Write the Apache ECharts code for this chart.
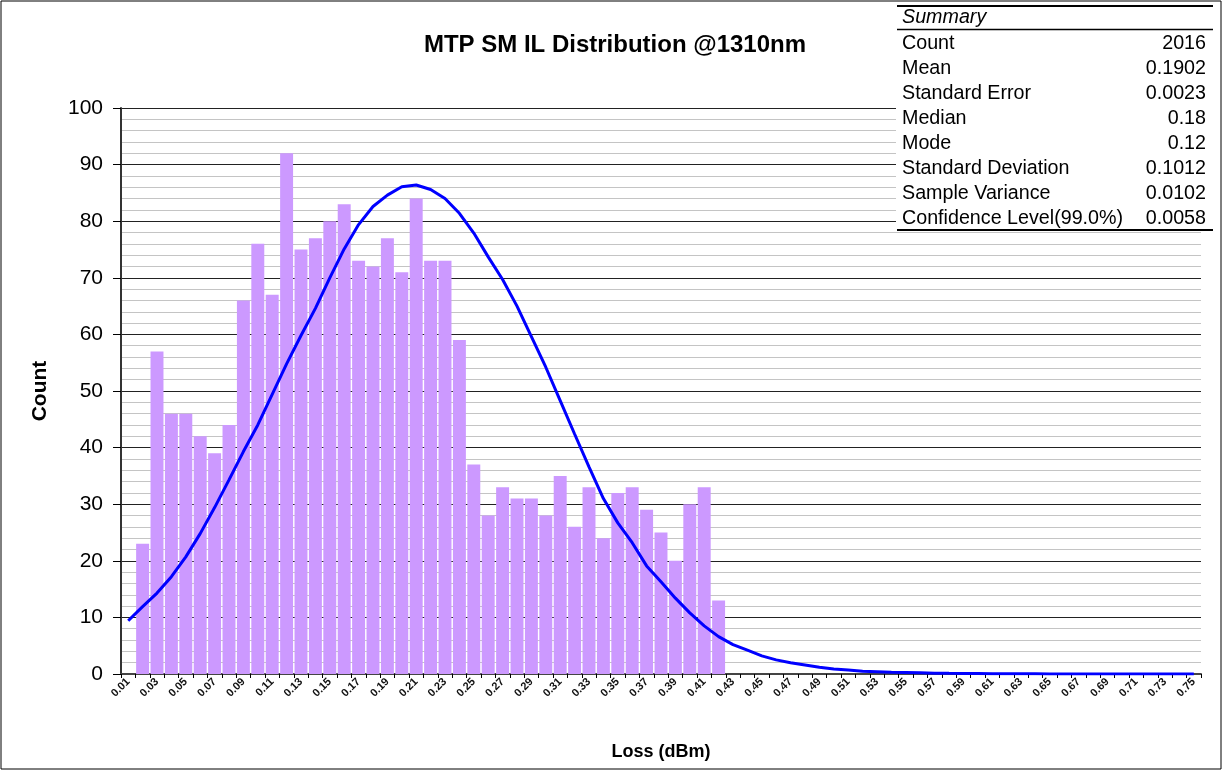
<!DOCTYPE html>
<html>
<head>
<meta charset="utf-8">
<script src="https://cdn.jsdelivr.net/npm/echarts@6/dist/echarts.min.js"></script>
<style>
html,body{margin:0;padding:0;background:#fff;}
#chart{width:1223px;height:771px;}
</style>
</head>
<body>
<div id="chart"></div>
<script>
// ---- data ----
const titleText = 'MTP SM IL Distribution @1310nm';
const xAxisName = 'Loss (dBm)';
const yAxisName = 'Count';

const categories = ['0.01','0.02','0.03','0.04','0.05','0.06','0.07','0.08','0.09','0.10',
  '0.11','0.12','0.13','0.14','0.15','0.16','0.17','0.18','0.19','0.20',
  '0.21','0.22','0.23','0.24','0.25','0.26','0.27','0.28','0.29','0.30',
  '0.31','0.32','0.33','0.34','0.35','0.36','0.37','0.38','0.39','0.40',
  '0.41','0.42','0.43','0.44','0.45','0.46','0.47','0.48','0.49','0.50',
  '0.51','0.52','0.53','0.54','0.55','0.56','0.57','0.58','0.59','0.60',
  '0.61','0.62','0.63','0.64','0.65','0.66','0.67','0.68','0.69','0.70',
  '0.71','0.72','0.73','0.74','0.75'];

const counts = [0,23,57,46,46,42,39,44,66,76,
  67,92,75,77,80,83,73,72,77,71,
  84,73,73,59,37,28,33,31,31,28,
  35,26,33,24,32,33,29,25,20,30,
  33,13,0,0,0,0,0,0,0,0,
  0,0,0,0,0,0,0,0,0,0,
  0,0,0,0,0,0,0,0,0,0,
  0,0,0,0,0];

const normalCurve = [9.4,11.9,14.3,17.2,20.7,24.8,29.4,34.3,39.3,44.0,
  49.4,54.8,59.8,64.6,70.0,75.1,79.4,82.6,84.6,86.1,
  86.4,85.6,84.0,81.4,77.9,73.7,69.7,65.0,59.6,54.2,
  48.3,42.4,36.6,31.0,26.7,23.2,19.1,16.3,13.4,10.8,
  8.5,6.6,5.2,4.2,3.2,2.5,2.0,1.6,1.2,0.9,
  0.7,0.5,0.4,0.3,0.25,0.2,0.15,0.12,0.1,0.08,
  0.06,0.05,0.04,0.03,0.02,0.02,0.01,0.01,0.01,0,
  0,0,0,0,0];

const summaryHeader = 'Summary';
const summaryLabels = ['Count','Mean','Standard Error','Median','Mode','Standard Deviation','Sample Variance','Confidence Level(99.0%)'];
const summaryValues = ['2016','0.1902','0.0023','0.18','0.12','0.1012','0.0102','0.0058'];

// ---- chart ----
const FONT = 'Arial, "Liberation Sans", sans-serif';
const chart = echarts.init(document.getElementById('chart'), null, {renderer:'canvas'});

const tableX0 = 896, tableX1 = 1214, rowH = 25, firstRowY = 18;
const tableEls = [
  {type:'rect', shape:{x:tableX0, y:4, width:tableX1-tableX0, height:228}, style:{fill:'#ffffff'}, z:100},
  {type:'line', shape:{x1:tableX0+1, y1:6, x2:tableX1-1, y2:6}, style:{stroke:'#000', lineWidth:2}, z:101},
  {type:'line', shape:{x1:tableX0+1, y1:29.5, x2:tableX1-1, y2:29.5}, style:{stroke:'#000', lineWidth:1.5}, z:101},
  {type:'line', shape:{x1:tableX0+1, y1:230, x2:tableX1-1, y2:230}, style:{stroke:'#000', lineWidth:2}, z:101},
  {type:'text', z:101, style:{text:summaryHeader, x:902, y:firstRowY, font:'italic 19.7px ' + FONT, fill:'#000', align:'left', verticalAlign:'middle'}}
];
summaryLabels.forEach((lab, i) => {
  const y = firstRowY + 0.5 + rowH * (i + 1);
  tableEls.push({type:'text', z:101, style:{text:lab, x:902, y:y, font:'19.7px ' + FONT, fill:'#000', align:'left', verticalAlign:'middle'}});
  tableEls.push({type:'text', z:101, style:{text:summaryValues[i], x:1206, y:y, font:'19.7px ' + FONT, fill:'#000', align:'right', verticalAlign:'middle'}});
});

const option = {
  animation: false,
  backgroundColor: '#ffffff',
  title: {
    text: titleText,
    left: 610, top: 28,
    textAlign: 'center',
    textStyle: {fontFamily: FONT, fontWeight: 'bold', fontSize: 24, color: '#000'}
  },
  grid: {left: 121, right: 22, top: 108, bottom: 97, containLabel: false},
  xAxis: {
    type: 'category',
    data: categories,
    boundaryGap: true,
    name: xAxisName,
    nameLocation: 'middle',
    nameGap: 69,
    nameTextStyle: {fontFamily: FONT, fontWeight: 'bold', fontSize: 18, color: '#000'},
    axisLine: {lineStyle: {color: '#444', width: 2}},
    axisTick: {show: true, interval: 0, length: 4, lineStyle: {color: '#000', width: 1}},
    axisLabel: {interval: 1, rotate: 45, fontSize: 11, fontFamily: FONT, fontWeight: 'bold', color: '#111', margin: 6},
    splitLine: {show: false}
  },
  yAxis: {
    type: 'value',
    min: 0, max: 100, interval: 10,
    name: yAxisName,
    nameLocation: 'middle',
    nameGap: 70,
    nameRotate: 90,
    nameTextStyle: {fontFamily: FONT, fontWeight: 'bold', fontSize: 21, color: '#000'},
    axisLine: {show: true, lineStyle: {color: '#333', width: 2}},
    axisTick: {show: true, length: 8, lineStyle: {color: '#000', width: 1}},
    axisLabel: {fontFamily: FONT, fontSize: 21, color: '#000', margin: 18},
    splitLine: {show: true, lineStyle: {color: '#222', width: 1}},
    minorTick: {show: false, splitNumber: 5},
    minorSplitLine: {show: true, lineStyle: {color: '#c4c4c4', width: 1}}
  },
  series: [
    {
      type: 'bar',
      data: counts,
      barCategoryGap: '10%',
      itemStyle: {color: '#cc99ff'},
      z: 2
    },
    {
      type: 'line',
      data: normalCurve,
      symbol: 'none',
      smooth: false,
      lineStyle: {color: '#0000ff', width: 3},
      z: 3
    }
  ],
  graphic: [
    {type:'rect', shape:{x:1, y:1, width:1220, height:768}, style:{fill:'none', stroke:'#000', lineWidth:1}, z:50},
    {type:'group', children: tableEls, z: 100}
  ]
};
chart.setOption(option);
</script>
</body>
</html>
